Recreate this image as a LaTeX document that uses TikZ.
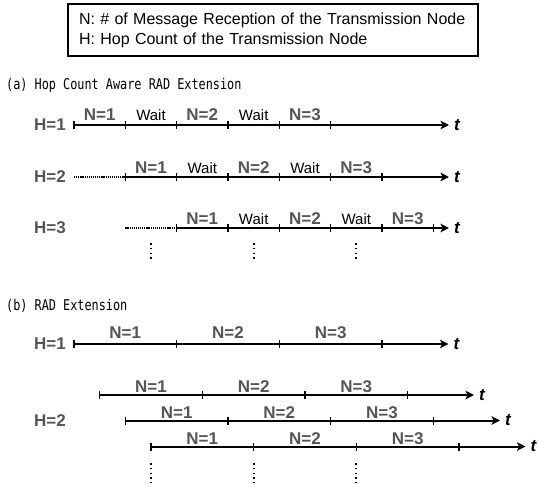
\documentclass[tikz,border=0pt]{standalone}
\usepackage{fontspec}
\setmainfont{Liberation Sans}
\newfontfamily\gothicmono[FakeStretch=0.8]{DejaVu Sans Mono}
\usepackage{xcolor}
\usetikzlibrary{arrows.meta,positioning}
\definecolor{labelgray}{HTML}{555555}

\begin{document}
\begin{tikzpicture}[x=1pt, y=-1pt,
    legend box/.style={draw, line width=1.3pt, minimum width=410pt, minimum height=52pt, text width=388pt, inner xsep=11pt, align=left, font=\fontsize{16}{20}\selectfont},
    part title/.style={anchor=west, inner sep=0pt, font=\gothicmono\fontsize{14.8}{16}\selectfont},
    hop label/.style={anchor=west, inner sep=0pt, text=labelgray, font=\bfseries\fontsize{17}{19}\selectfont},
    rx label/.style={anchor=base, inner sep=0pt, text=labelgray, font=\bfseries\fontsize{17}{19}\selectfont},
    wait label/.style={anchor=base, inner sep=0pt, font=\fontsize{15}{17}\selectfont},
    time label/.style={inner sep=0pt, font=\bfseries\itshape\fontsize{17}{19}\selectfont},
    time line/.style={line width=2pt, -{Stealth[length=8.5pt, width=8.5pt, inset=2pt]}},
    tick mark/.style={line width=1.4pt},
    lead in/.style={line width=2pt, dash pattern=on 1.2pt off 0.9pt},
    more rows/.style={line width=1.8pt, dash pattern=on 1.6pt off 3.2pt}]
    \useasboundingbox (0,0) rectangle (539,487);

    % legend
    \node[legend box] (legend) at (273,30) {N: \# of Message Reception of the Transmission Node\\H: Hop Count of the Transmission Node};

    % (a) hop count aware version
    \node[part title] (ta) at (6,85.5) {(a) Hop Count Aware RAD Extension};

    % H=1
    \node[hop label] (ha1) at (34,125) {H=1};
    \coordinate (a1s) at (74,125);
    \coordinate (a1e) at (449,125);
    \draw[time line] (a1s) -- (a1e);
    \node[time label, right=5pt of a1e] (a1t) {t};
    \draw[tick mark] (74,121) -- (74,129) (125.3,121) -- (125.3,129) (176.7,121) -- (176.7,129)
        (228,121) -- (228,129) (279.3,121) -- (279.3,129) (330.7,121) -- (330.7,129);
    \node[rx label] (a1n1) at (99.7,121) {N=1};
    \node[wait label] (a1w1) at (151,121) {Wait};
    \node[rx label] (a1n2) at (202.3,121) {N=2};
    \node[wait label] (a1w2) at (253.7,121) {Wait};
    \node[rx label] (a1n3) at (305,121) {N=3};

    % H=2
    \node[hop label] (ha2) at (34,177) {H=2};
    \coordinate (a2d) at (74,177);
    \coordinate (a2s) at (125.3,177);
    \coordinate (a2e) at (449,177);
    \draw[lead in] (a2d) -- (a2s);
    \draw[time line] (a2s) -- (a2e);
    \node[time label, right=5pt of a2e] (a2t) {t};
    \draw[tick mark] (125.3,173) -- (125.3,181) (176.7,173) -- (176.7,181) (228,173) -- (228,181)
        (279.3,173) -- (279.3,181) (330.7,173) -- (330.7,181) (382,173) -- (382,181);
    \node[rx label] (a2n1) at (151,173) {N=1};
    \node[wait label] (a2w1) at (202.3,173) {Wait};
    \node[rx label] (a2n2) at (253.7,173) {N=2};
    \node[wait label] (a2w2) at (305,173) {Wait};
    \node[rx label] (a2n3) at (356.3,173) {N=3};

    % H=3
    \node[hop label] (ha3) at (34,228) {H=3};
    \coordinate (a3d) at (125.3,228);
    \coordinate (a3s) at (176.7,228);
    \coordinate (a3e) at (449,228);
    \draw[lead in] (a3d) -- (a3s);
    \draw[time line] (a3s) -- (a3e);
    \node[time label, right=5pt of a3e] (a3t) {t};
    \draw[tick mark] (176.7,224) -- (176.7,232) (228,224) -- (228,232) (279.3,224) -- (279.3,232)
        (330.7,224) -- (330.7,232) (382,224) -- (382,232) (433.3,224) -- (433.3,232);
    \node[rx label] (a3n1) at (202.3,224) {N=1};
    \node[wait label] (a3w1) at (253.7,224) {Wait};
    \node[rx label] (a3n2) at (305,224) {N=2};
    \node[wait label] (a3w2) at (356.3,224) {Wait};
    \node[rx label] (a3n3) at (407.7,224) {N=3};

    % and so on
    \draw[more rows] (151,243) -- (151,262);
    \draw[more rows] (253.7,243) -- (253.7,262);
    \draw[more rows] (356.3,243) -- (356.3,262);

    % (b) plain version
    \node[part title] (tb) at (6,305.5) {(b) RAD Extension};

    % H=1
    \node[hop label] (hb1) at (34,344) {H=1};
    \coordinate (b1s) at (74,344);
    \coordinate (b1e) at (448.5,344);
    \draw[time line] (b1s) -- (b1e);
    \node[time label, right=5pt of b1e] (b1t) {t};
    \draw[tick mark] (74,340) -- (74,348) (176.7,340) -- (176.7,348) (279.3,340) -- (279.3,348) (382,340) -- (382,348);
    \node[rx label] (b1n1) at (125.3,338.5) {N=1};
    \node[rx label] (b1n2) at (228,338.5) {N=2};
    \node[rx label] (b1n3) at (330.7,338.5) {N=3};

    % H=2, three receptions
    \node[hop label] (hb2) at (34,420.5) {H=2};
    \coordinate (b2s) at (99.7,395);
    \coordinate (b2e) at (474,395);
    \draw[time line] (b2s) -- (b2e);
    \node[time label, right=5pt of b2e] (b2t) {t};
    \draw[tick mark] (99.7,391) -- (99.7,399) (202.3,391) -- (202.3,399) (305,391) -- (305,399) (407.7,391) -- (407.7,399);
    \node[rx label] (b2n1) at (151,392.5) {N=1};
    \node[rx label] (b2n2) at (253.7,392.5) {N=2};
    \node[rx label] (b2n3) at (356.3,392.5) {N=3};

    \coordinate (b3s) at (125.3,420.5);
    \coordinate (b3e) at (500,420.5);
    \draw[time line] (b3s) -- (b3e);
    \node[time label, right=5pt of b3e] (b3t) {t};
    \draw[tick mark] (125.3,416.5) -- (125.3,424.5) (228,416.5) -- (228,424.5) (330.7,416.5) -- (330.7,424.5) (433.3,416.5) -- (433.3,424.5);
    \node[rx label] (b3n1) at (176.7,418.5) {N=1};
    \node[rx label] (b3n2) at (279.3,418.5) {N=2};
    \node[rx label] (b3n3) at (382,418.5) {N=3};

    \coordinate (b4s) at (151,446.5);
    \coordinate (b4e) at (525.5,446.5);
    \draw[time line] (b4s) -- (b4e);
    \node[time label, right=5pt of b4e] (b4t) {t};
    \draw[tick mark] (151,442.5) -- (151,450.5) (253.7,442.5) -- (253.7,450.5) (356.3,442.5) -- (356.3,450.5) (459,442.5) -- (459,450.5);
    \node[rx label] (b4n1) at (202.3,444.5) {N=1};
    \node[rx label] (b4n2) at (305,444.5) {N=2};
    \node[rx label] (b4n3) at (407.7,444.5) {N=3};

    % and so on
    \draw[more rows] (151,463) -- (151,483);
    \draw[more rows] (253.7,463) -- (253.7,483);
    \draw[more rows] (356.3,463) -- (356.3,483);
\end{tikzpicture}
\end{document}
